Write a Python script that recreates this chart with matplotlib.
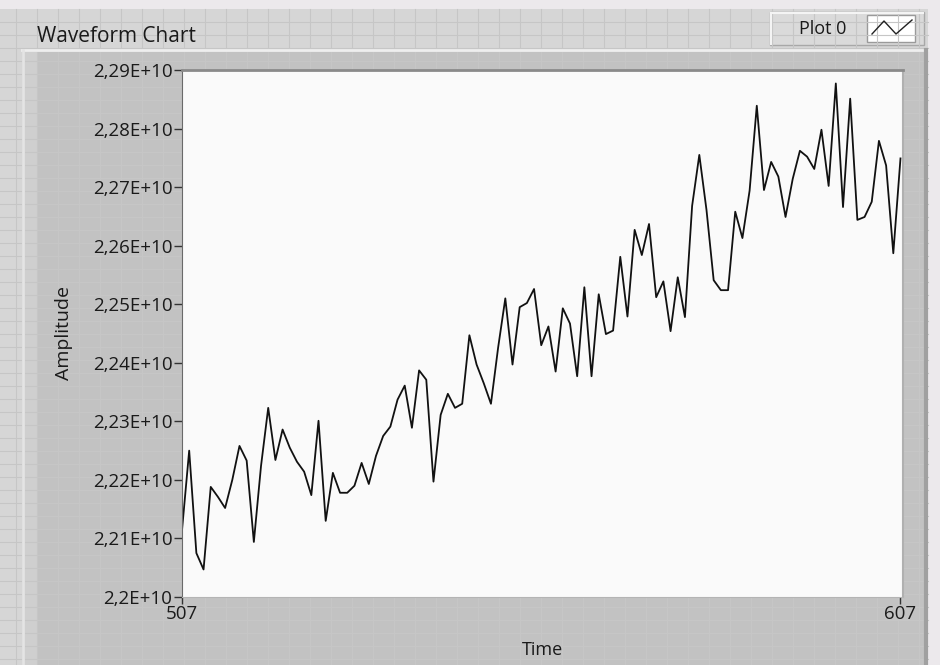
import numpy as np
import matplotlib.pyplot as plt
from matplotlib.patches import Rectangle
from matplotlib.ticker import FuncFormatter

plt.rcParams['font.family'] = ['Open Sans', 'DejaVu Sans']

# samples 507..607, amplitude given in units of 1E+10
time_start = 507
amplitude_e10 = [
    2.2114, 2.2250, 2.2075, 2.2047, 2.2188, 2.2171, 2.2152, 2.2200, 2.2258, 2.2233,
    2.2094, 2.2224, 2.2323, 2.2234, 2.2286, 2.2255, 2.2231, 2.2214, 2.2174, 2.2301,
    2.2130, 2.2212, 2.2178, 2.2178, 2.2190, 2.2229, 2.2193, 2.2241, 2.2275, 2.2291,
    2.2337, 2.2361, 2.2289, 2.2387, 2.2371, 2.2197, 2.2311, 2.2347, 2.2323, 2.2330,
    2.2447, 2.2397, 2.2365, 2.2330, 2.2426, 2.2510, 2.2397, 2.2495, 2.2502, 2.2526,
    2.2430, 2.2462, 2.2385, 2.2493, 2.2467, 2.2377, 2.2529, 2.2377, 2.2517, 2.2449,
    2.2455, 2.2581, 2.2479, 2.2627, 2.2584, 2.2637, 2.2512, 2.2539, 2.2454, 2.2546,
    2.2478, 2.2668, 2.2755, 2.2661, 2.2541, 2.2524, 2.2524, 2.2658, 2.2613, 2.2694,
    2.2839, 2.2695, 2.2743, 2.2718, 2.2649, 2.2714, 2.2762, 2.2752, 2.2731, 2.2798,
    2.2702, 2.2877, 2.2666, 2.2851, 2.2644, 2.2649, 2.2675, 2.2779, 2.2737, 2.2587,
    2.2749,
]
y_ticks_e10 = [2.20, 2.21, 2.22, 2.23, 2.24, 2.25, 2.26, 2.27, 2.28, 2.29]
x_ticks = [507, 607]

amplitude = np.array(amplitude_e10) * 1e10
time = np.arange(time_start, time_start + len(amplitude))

W, H = 940, 665
fig = plt.figure(figsize=(W / 100, H / 100), dpi=100)
fig.patch.set_facecolor('#ece9ec')

# panel background drawn in pixel coordinates
bg = fig.add_axes([0, 0, 1, 1])
bg.set_xlim(0, W)
bg.set_ylim(H, 0)
bg.axis('off')

# front panel grid
bg.add_patch(Rectangle((0, 9), 928, H - 9, facecolor='#d6d6d6', edgecolor='none'))
for gx in np.arange(16, 928, 21):
    bg.plot([gx, gx], [9, H], color='#c6c6c6', lw=0.8)
for gy in np.arange(22, H, 13):
    bg.plot([0, 928], [gy, gy], color='#c6c6c6', lw=0.8)

# chart body with raised edges
bg.add_patch(Rectangle((22, 49), 906, H - 49, facecolor='#c2c2c2', edgecolor='none'))
bg.plot([22, 928], [50, 50], color='#eeeeee', lw=2)
bg.plot([23, 23], [50, H], color='#e4e4e4', lw=2)
bg.add_patch(Rectangle((25, 52), 12, H - 52, facecolor='#cfcfcf', edgecolor='none'))
bg.plot([926, 926], [50, H], color='#a0a0a0', lw=3)

# plot legend
bg.add_patch(Rectangle((770, 12), 154, 33, facecolor='#dadada', edgecolor='#a8a8a8', lw=1))
bg.plot([771, 923], [13, 13], color='#f4f4f4', lw=1.5)
bg.plot([771, 771], [13, 44], color='#f4f4f4', lw=1.5)
bg.text(823, 28.5, 'Plot 0', ha='center', va='center', fontsize=13, color='#1a1a1a')
bg.add_patch(Rectangle((867, 15), 48, 27, facecolor='white', edgecolor='#9a9a9a', lw=1))
bg.plot([872, 884, 896, 912], [34, 21, 34, 20], color='#222222', lw=1)

bg.text(37, 36, 'Waveform Chart', ha='left', va='center', fontsize=15, color='#1a1a1a')

# plot area
ax = fig.add_axes([182 / W, 1 - 597 / H, (903 - 182) / W, (597 - 70) / H])
ax.set_facecolor('#fafafa')
ax.plot(time, amplitude, color='#111111', lw=1.3)
ax.set_xlim(time_start, 607.35)
ax.set_ylim(y_ticks_e10[0] * 1e10, y_ticks_e10[-1] * 1e10)

ax.set_yticks(np.array(y_ticks_e10) * 1e10)
ax.set_xticks(x_ticks)
ax.yaxis.set_major_formatter(FuncFormatter(
    lambda v, pos: f"{v / 1e10:.2f}".rstrip('0').replace('.', ',') + 'E+10'))
ax.tick_params(axis='y', length=6, width=1, color='#333333', pad=1,
               labelsize=13.5, labelcolor='#1a1a1a')
ax.tick_params(axis='x', length=5, width=1, color='#333333', pad=1,
               labelsize=13.5, labelcolor='#1a1a1a')

ax.spines['left'].set_color('#6a6a6a')
ax.spines['top'].set_color('#8a8a8a')
ax.spines['top'].set_linewidth(2)
ax.spines['bottom'].set_color('#b4b4b4')
ax.spines['right'].set_color('#b0b0b0')
ax.spines['right'].set_linewidth(1.5)

ax.set_ylabel('Amplitude', fontsize=14, color='#1a1a1a', labelpad=14)
ax.set_xlabel('Time', fontsize=13, color='#1a1a1a', labelpad=13)

fig.savefig('out.png', dpi=100, facecolor=fig.get_facecolor())
